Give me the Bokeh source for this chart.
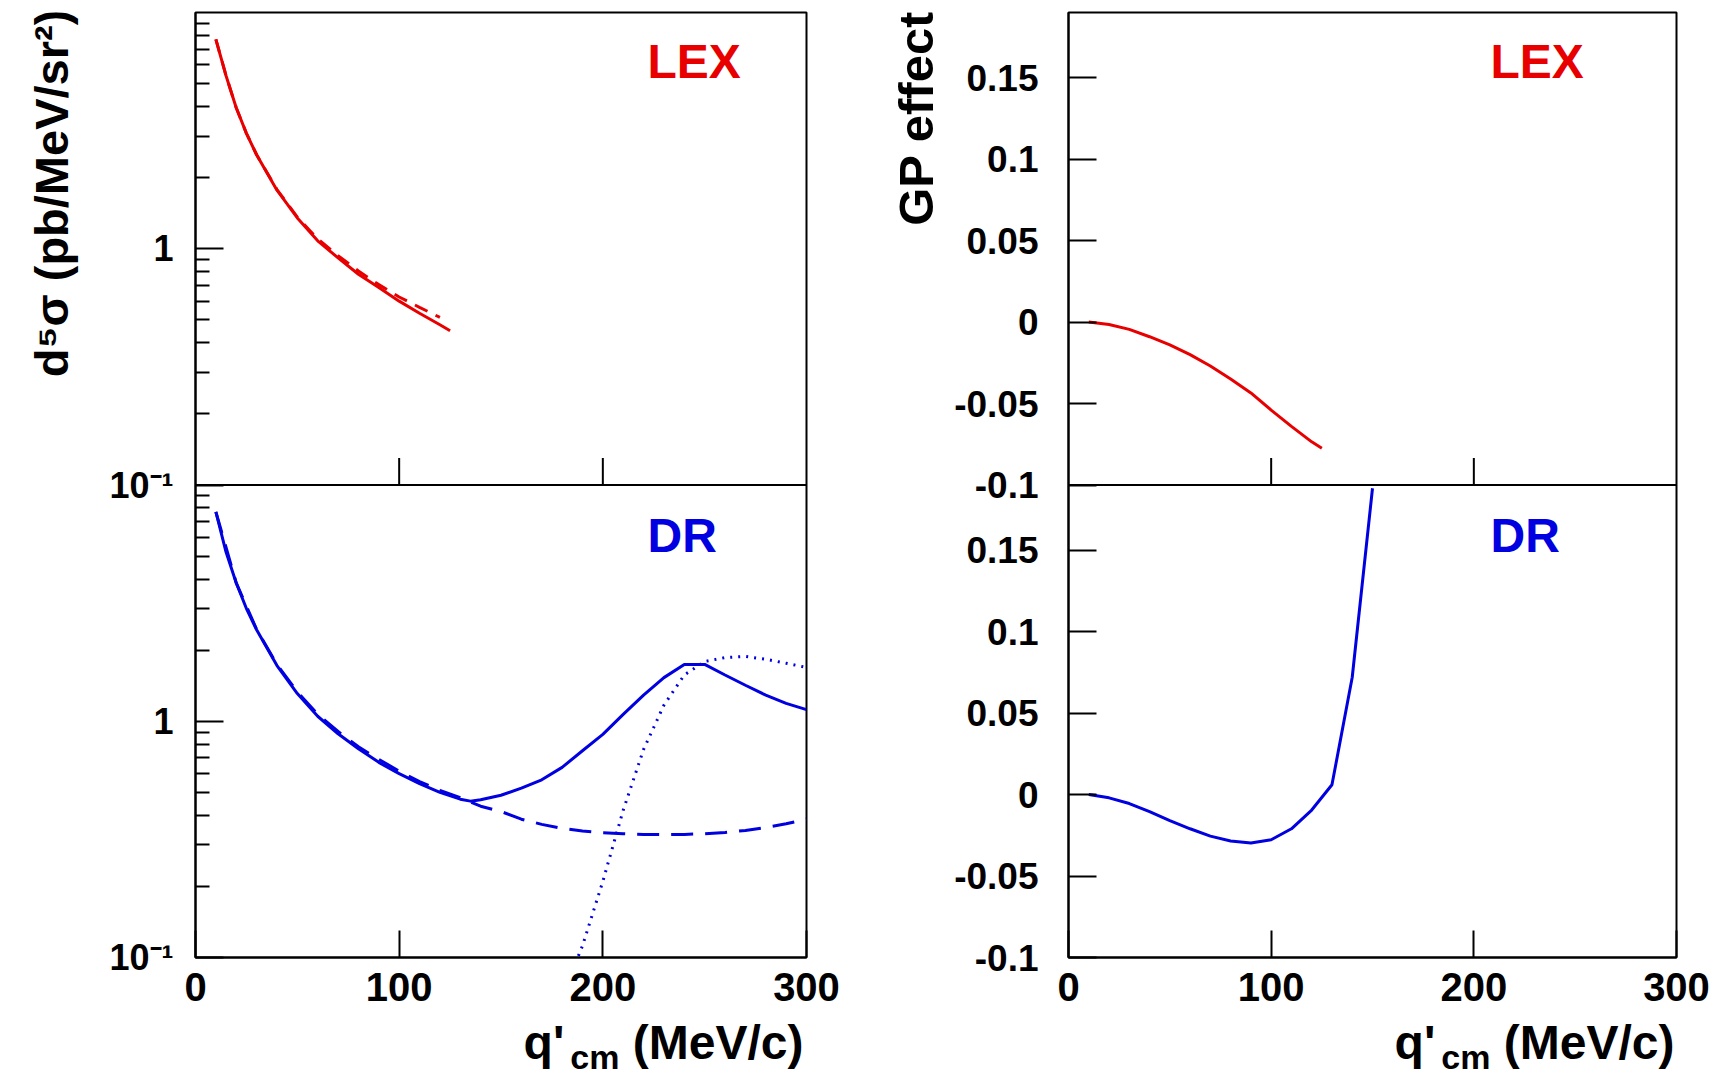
import math
from bokeh.plotting import figure
from bokeh.models import Range1d, LogScale, LinearScale, FixedTicker, Span, Label
from bokeh.layouts import row, column
from bokeh.core.properties import value
from bokeh.embed import file_html
from bokeh.resources import INLINE

# ---------------- data ----------------
x_ticks = [0, 100, 200, 300]
x_tick_labels = ["0", "100", "200", "300"]

# left column, top panel (LEX) : d5sigma
lex_q = [10, 15, 20, 25, 30, 40, 50, 60, 70, 80, 90, 100, 110, 120, 125]
lex_xs = [7.7, 5.4, 3.95, 3.08, 2.5, 1.77, 1.35, 1.08, 0.915, 0.78, 0.685, 0.60, 0.533, 0.477, 0.45]
lex_bh_q = [10, 15, 20, 25, 30, 40, 50, 60, 70, 80, 90, 100, 110, 120]
lex_bh = [7.7, 5.4, 3.95, 3.08, 2.5, 1.78, 1.36, 1.10, 0.935, 0.805, 0.705, 0.625, 0.565, 0.512]

# left column, bottom panel (DR)
dr_q = [10, 15, 20, 25, 30, 40, 50, 60, 70, 80, 90, 100, 110, 120, 130, 135, 140, 150, 160,
        170, 180, 190, 200, 210, 220, 230, 240, 250, 260, 270, 280, 290, 300]
dr_xs = [7.7, 5.2, 3.85, 3.0, 2.44, 1.72, 1.31, 1.05, 0.885, 0.765, 0.67, 0.60, 0.545, 0.50,
         0.468, 0.459, 0.465, 0.486, 0.521, 0.565, 0.638, 0.75, 0.88, 1.07, 1.29, 1.53, 1.74,
         1.74, 1.57, 1.42, 1.29, 1.19, 1.12]
dr_bh_q = [10, 20, 30, 40, 50, 60, 70, 80, 90, 100, 110, 120, 130, 140, 150, 160, 170, 180,
           190, 200, 210, 220, 230, 240, 250, 260, 270, 280, 290, 300]
dr_bh = [7.7, 3.85, 2.45, 1.74, 1.33, 1.07, 0.905, 0.78, 0.69, 0.615, 0.555, 0.51, 0.475,
         0.437, 0.415, 0.385, 0.366, 0.352, 0.343, 0.337, 0.334, 0.332, 0.331, 0.332, 0.334,
         0.338, 0.345, 0.355, 0.368, 0.385]
dr_dot_q = [185, 190, 200, 210, 220, 230, 240, 250, 260, 270, 280, 290, 300]
dr_dot = [0.088, 0.112, 0.21, 0.42, 0.76, 1.17, 1.57, 1.79, 1.86, 1.88, 1.83, 1.76, 1.69]

# right column : GP effect
gp_lex_q = [10, 20, 30, 40, 50, 60, 70, 80, 90, 100, 110, 120, 125]
gp_lex = [0.0, -0.0015, -0.0045, -0.009, -0.014, -0.020, -0.027, -0.035, -0.0435, -0.054,
          -0.064, -0.0735, -0.0775]
gp_dr_q = [10, 20, 30, 40, 50, 60, 70, 80, 90, 100, 110, 120, 130, 140, 150]
gp_dr = [0.0, -0.002, -0.0055, -0.0105, -0.016, -0.021, -0.0255, -0.0285, -0.0297, -0.0277,
         -0.021, -0.0095, 0.006, 0.072, 0.188]

# axis definitions
log_lo, log_hi = 0.1, 10.0               # each log panel
log_major = [0.1, 1.0]
log_major_labels = ["10\u207b\u00b9", "1"]
gp_lo, gp_hi = -0.1, 0.19                # each linear panel
gp_major = [-0.1, -0.05, 0.0, 0.05, 0.1, 0.15]
gp_major_labels = ["-0.1", "-0.05", "0", "0.05", "0.1", "0.15"]

x_title_main = "(MeV/c)"
x_title_q = "q'"
x_title_sub = "cm"
y_title_left = "d\u2075\u03c3 (pb/MeV/sr\u00b2)"
y_title_right = "GP effect"
model_top = "LEX"
model_bottom = "DR"

# ---------------- style / layout ----------------
FONT = "Liberation Sans"
RED = "#e80000"
BLUE = "#0000e0"
H1 = 1017            # height of the plot row
H2 = 1078 - H1       # height of the x-title strip
BT, BB = 12, 60
FH = H1 - BT - BB    # frame height (both panels)
YL_W, PL_W, YR_W, PR_W = 100, 766, 84, 762
PL_BL, PL_BR = 95, 60
PR_BL, PR_BR = 118, 36


def make_fig(width, bl, br, y_type, y_range):
    p = figure(width=width, height=H1, output_backend="svg", toolbar_location=None,
               x_range=Range1d(x_ticks[0], x_ticks[-1]), y_range=y_range, y_axis_type=y_type,
               min_border_left=bl, min_border_right=br, min_border_top=BT, min_border_bottom=BB)
    p.grid.visible = False
    p.outline_line_color = "black"
    p.outline_line_width = 2
    p.background_fill_color = "white"
    p.border_fill_color = "white"
    for ax in (p.xaxis[0], p.yaxis[0]):
        ax.axis_line_color = "black"
        ax.axis_line_width = 2
        ax.major_tick_line_color = "black"
        ax.major_tick_line_width = 2
        ax.minor_tick_line_color = "black"
        ax.minor_tick_line_width = 2
        ax.major_tick_out = 0
        ax.minor_tick_out = 0
        ax.major_label_text_font = FONT
        ax.major_label_text_font_style = "bold"
        ax.major_label_text_color = "black"
    xa = p.xaxis[0]
    xa.ticker = FixedTicker(ticks=x_ticks, minor_ticks=[])
    xa.major_label_overrides = {t: s for t, s in zip(x_ticks, x_tick_labels)}
    xa.major_tick_in = 27
    xa.major_label_text_font_size = "40px"
    xa.major_label_standoff = 15
    return p


def model_labels(p, x):
    p.add_layout(Label(x=x, y=FH - 49, x_units="screen", y_units="screen", text=model_top,
                       text_baseline="alphabetic", text_font=FONT, text_font_style="bold",
                       text_font_size="48px", text_color=RED))
    p.add_layout(Label(x=x, y=FH / 2 - 50, x_units="screen", y_units="screen", text=model_bottom,
                       text_baseline="alphabetic", text_font=FONT, text_font_style="bold",
                       text_font_size="48px", text_color=BLUE))


def text_fig(w, h):
    f = figure(width=w, height=h, output_backend="svg", toolbar_location=None,
               x_range=Range1d(0, w), y_range=Range1d(0, h),
               x_axis_location=None, y_axis_location=None, min_border=0)
    f.grid.visible = False
    f.outline_line_color = None
    f.background_fill_color = "white"
    f.border_fill_color = "white"
    return f


# ---------------- left column : cross sections ----------------
decades = math.log10(log_hi / log_lo)
shift = 10 ** decades  # bottom panel mapped one panel-height lower
pL = make_fig(PL_W, PL_BL, PL_BR, "log", Range1d(log_lo / shift, log_hi))
pL.extra_y_ranges = {"bot": Range1d(log_lo, log_hi * shift)}
pL.extra_y_scales = {"bot": LogScale()}

yl = pL.yaxis[0]
maj_pos = [v / shift for v in log_major] + log_major
maj_lab = log_major_labels + log_major_labels
minor = []
for e in range(int(round(math.log10(log_lo / shift))), int(round(math.log10(log_hi)))):
    for k in range(2, 10):
        minor.append(k * 10.0 ** e)
yl.ticker = FixedTicker(ticks=maj_pos, minor_ticks=minor)
yl.major_label_overrides = {t: s for t, s in zip(maj_pos, maj_lab)}
yl.major_tick_in = 28
yl.minor_tick_in = 14
yl.major_label_text_font_size = "36px"
yl.major_label_standoff = 22

pL.add_layout(Span(location=log_lo, dimension="width", line_color="black", line_width=2))
pL.ray(x=x_ticks[1:-1], y=[log_lo] * (len(x_ticks) - 2), length=27, length_units="screen",
       angle=math.pi / 2, line_color="black", line_width=2)

pL.line(lex_bh_q, lex_bh, line_color=RED, line_width=3, line_dash="14 9")
pL.line(lex_q, lex_xs, line_color=RED, line_width=3)
pL.line(dr_bh_q, dr_bh, line_color=BLUE, line_width=3, line_dash="22 12", y_range_name="bot")
pL.line(dr_dot_q, dr_dot, line_color=BLUE, line_width=3, line_dash="2 6", y_range_name="bot")
pL.line(dr_q, dr_xs, line_color=BLUE, line_width=3, y_range_name="bot")
model_labels(pL, 452)

# ---------------- right column : GP effect ----------------
span = gp_hi - gp_lo
pR = make_fig(PR_W, PR_BL, PR_BR, "linear", Range1d(gp_lo - span, gp_hi))
pR.extra_y_ranges = {"bot": Range1d(gp_lo, gp_hi + span)}
pR.extra_y_scales = {"bot": LinearScale()}

yr = pR.yaxis[0]
rmaj_pos = [round(v - span, 6) for v in gp_major] + gp_major
rmaj_lab = gp_major_labels + gp_major_labels
yr.ticker = FixedTicker(ticks=rmaj_pos, minor_ticks=[])
yr.major_label_overrides = {t: s for t, s in zip(rmaj_pos, rmaj_lab)}
yr.major_tick_in = 28
yr.major_label_text_font_size = "37px"
yr.major_label_standoff = 30

pR.add_layout(Span(location=gp_lo, dimension="width", line_color="black", line_width=2))
pR.ray(x=x_ticks[1:-1], y=[gp_lo] * (len(x_ticks) - 2), length=27, length_units="screen",
       angle=math.pi / 2, line_color="black", line_width=2)

pR.line(gp_lex_q, gp_lex, line_color=RED, line_width=3)
pR.line(gp_dr_q, gp_dr, line_color=BLUE, line_width=3, y_range_name="bot")
model_labels(pR, 422)

# ---------------- y titles (rotated, aligned to the top of the frame) ----------------
yL = text_fig(YL_W, H1)
yL.text(x=[24], y=[H1 - BT + 15], text=[y_title_left], angle=math.pi / 2, text_align="right",
        text_baseline="top", text_font=value(FONT), text_font_style="bold",
        text_font_size="47px", text_color="black")
yR = text_fig(YR_W, H1)
yR.text(x=[22], y=[H1 - BT + 14], text=[y_title_right], angle=math.pi / 2, text_align="right",
        text_baseline="top", text_font=value(FONT), text_font_style="bold",
        text_font_size="49px", text_color="black")

# ---------------- x titles: q'_cm (MeV/c), right-aligned to each frame ----------------
tF = text_fig(YL_W + PL_W + YR_W + PR_W, H2)
MAIN_PX, SUB_PX = 48, 34
W_MAIN = (3.556 + 0.278) * MAIN_PX   # "(MeV/c)" plus a space
W_SUB = 1.445 * SUB_PX               # "cm"
Y_MAIN = 1078 - (1061 - 0.4 * MAIN_PX)
Y_SUB = 1078 - (1070 - 0.4 * SUB_PX)
for right_edge in (YL_W + PL_BL + 611 - 3, YL_W + PL_W + YR_W + PR_BL + 608 - 2):
    tF.text(x=[right_edge], y=[Y_MAIN], text=[x_title_main], text_align="right",
            text_baseline="alphabetic", text_font=value(FONT), text_font_style="bold",
            text_font_size=f"{MAIN_PX}px", text_color="black")
    tF.text(x=[right_edge - W_MAIN], y=[Y_SUB], text=[x_title_sub], text_align="right",
            text_baseline="alphabetic", text_font=value(FONT), text_font_style="bold",
            text_font_size=f"{SUB_PX}px", text_color="black")
    tF.text(x=[right_edge - W_MAIN - W_SUB - 6], y=[Y_MAIN], text=[x_title_q],
            text_align="right", text_baseline="alphabetic", text_font=value(FONT),
            text_font_style="bold", text_font_size=f"{MAIN_PX}px", text_color="black")

layout = column(row(yL, pL, yR, pR, spacing=0), tF, spacing=0)
open("out.html", "w").write(file_html(layout, INLINE))
